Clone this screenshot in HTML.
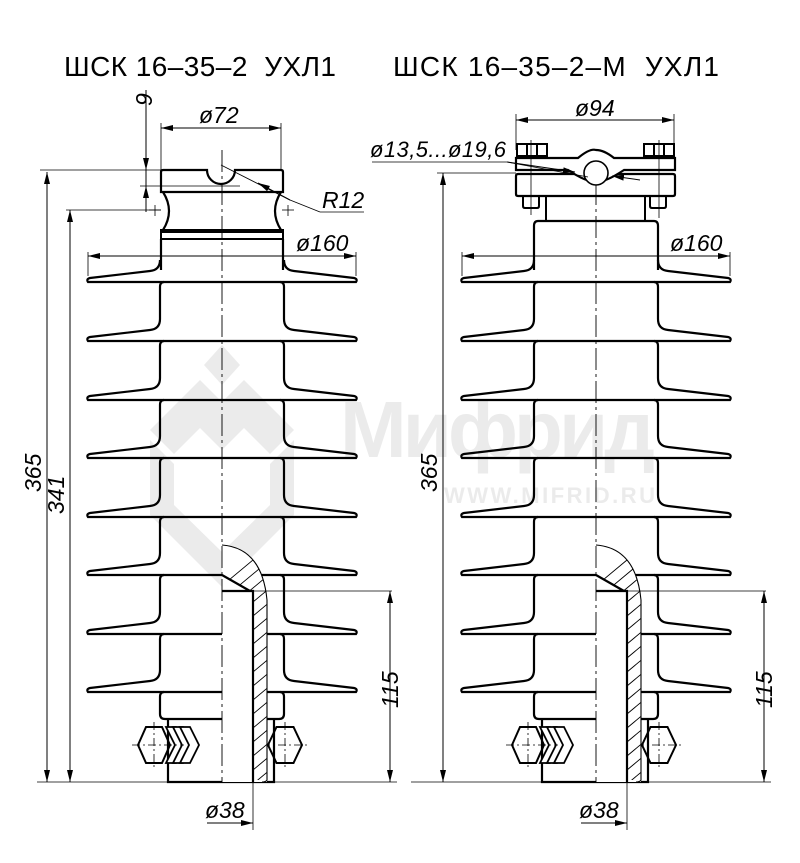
<!DOCTYPE html>
<html><head><meta charset="utf-8"><style>
html,body{margin:0;padding:0;background:#fff}
svg{display:block}
text{font-family:"Liberation Sans",sans-serif;font-style:italic;fill:#000}
</style></head><body>
<svg id="s" width="800" height="863" viewBox="0 0 800 863" xmlns="http://www.w3.org/2000/svg">
<defs>
<marker id="a" viewBox="0 0 12 6" refX="12" refY="3" markerWidth="12" markerHeight="6" markerUnits="userSpaceOnUse" orient="auto-start-reverse"><path d="M0,0L12,3L0,6z" fill="#000"/></marker>
</defs>
<g fill="#ebebeb">
<path d="M222,345 L240,365 L222,385 L204,365Z"/>
<path d="M150,430 L200,380 L222,402 L244,380 L294,430 L270,454 L244,428 L222,450 L200,428 L174,454Z"/>
<path d="M150,440 L174,464 L174,505 L222,552 L270,505 L270,464 L294,440 L294,515 L222,587 L150,515Z"/>
<text x="340" y="457" font-size="80" font-weight="bold" textLength="315" style="font-style:normal;fill:#ebebeb">Мифрид</text>
<text x="444" y="503" font-size="22" font-weight="bold" textLength="211" style="font-style:normal;fill:#ebebeb">WWW.MIFRID.RU</text>
</g>
<text x="64" y="76" font-size="28" textLength="272" style="font-style:normal" xml:space="preserve">ШСК 16–35–2  УХЛ1</text>
<text x="393" y="76" font-size="28" textLength="326" style="font-style:normal" xml:space="preserve">ШСК 16–35–2–М  УХЛ1</text>
<g id="g" fill="none" stroke="#000"></g>
</svg>
<script>
var g=document.getElementById('g'),out='';
function P(d,w,extra){out+='<path d="'+d+'" stroke-width="'+(w||2.2)+'" '+(extra||'')+'/>';}
function L(x1,y1,x2,y2,w,extra){out+='<line x1="'+x1+'" y1="'+y1+'" x2="'+x2+'" y2="'+y2+'" stroke-width="'+(w||1)+'" '+(extra||'')+'/>';}
function T(x,y,s,fs,rot){out+='<text x="'+x+'" y="'+y+'" font-size="'+(fs||22)+'" stroke="none"'+(rot?' transform="rotate(-90 '+x+' '+y+')"':'')+'>'+s+'</text>';}
function D(x1,y1,x2,y2){L(x1,y1,x2,y2,1,'marker-start="url(#a)" marker-end="url(#a)"');}
var sheds=[282,341,400,458,517,575,634,692];
function hex(cx,cy,w,h){var q=w/4;return 'M'+(cx-w/2)+','+cy+' L'+(cx-q)+','+(cy-h/2)+' L'+(cx+q)+','+(cy-h/2)+' L'+(cx+w/2)+','+cy+' L'+(cx+q)+','+(cy+h/2)+' L'+(cx-q)+','+(cy+h/2)+'Z';}
function ins(cx){
  var hw=62,tw=134;
  sheds.forEach(function(Y,i){
    P('M'+(cx-hw)+','+(Y-22)+' Q'+(cx-hw)+','+(Y-12)+' '+(cx-hw-10)+','+(Y-11)+' L'+(cx-tw+2)+','+(Y-4)+' Q'+(cx-tw-2)+','+(Y-3)+' '+(cx-tw)+','+Y+' L'+(cx+tw)+','+Y+' Q'+(cx+tw+2)+','+(Y-3)+' '+(cx+tw-2)+','+(Y-4)+' L'+(cx+hw+10)+','+(Y-11)+' Q'+(cx+hw)+','+(Y-12)+' '+(cx+hw)+','+(Y-22));
    if(i<sheds.length-1){
      var n=sheds[i+1];
      P('M'+(cx-hw+4)+','+Y+' Q'+(cx-hw)+','+Y+' '+(cx-hw)+','+(Y+5)+' L'+(cx-hw)+','+(n-22));
      P('M'+(cx+hw-4)+','+Y+' Q'+(cx+hw)+','+Y+' '+(cx+hw)+','+(Y+5)+' L'+(cx+hw)+','+(n-22));
    }
  });
  var Y=692;
  P('M'+(cx-hw+4)+','+Y+' Q'+(cx-hw)+','+Y+' '+(cx-hw)+','+(Y+5)+' L'+(cx-hw)+','+(714)+' Q'+(cx-hw)+',719 '+(cx-hw+5)+',719 L'+cx+',719');
  P('M'+(cx+hw-4)+','+Y+' Q'+(cx+hw)+','+Y+' '+(cx+hw)+','+(Y+5)+' L'+(cx+hw)+','+(714)+' Q'+(cx+hw)+',719 '+(cx+hw-5)+',719 L'+(cx+45)+',719');
  P('M'+(cx-54)+',719 L'+(cx-54)+',782 L'+(cx+52)+',782 L'+(cx+52)+',719');
  P(hex(cx-68,745,32,36),2);
  for(var k=0;k<3;k++){var x0=cx-56+k*7;P('M'+x0+',727 L'+(x0+10)+',727 L'+(x0+19)+',745 L'+(x0+10)+',763 L'+x0+',763 L'+(x0+9)+',745Z',1.8,'fill="#fff"');}
  P(hex(cx+63,745,34,36),2);
  L(cx-90,745,cx-38,745,0.8,'stroke-dasharray="8 3 2 3"');
  L(cx-68,722,cx-68,768,0.8,'stroke-dasharray="8 3 2 3"');
  L(cx+40,745,cx+88,745,0.8,'stroke-dasharray="8 3 2 3"');
  L(cx+63,722,cx+63,768,0.8,'stroke-dasharray="8 3 2 3"');
  var cut='M'+cx+',545 Q'+(cx+40)+',548 '+(cx+45)+',600 L'+(cx+45)+',782 L'+cx+',782 Z';
  P(cut,0,'fill="#fff" stroke="none"');
  out+='<clipPath id="c'+cx+'"><path d="M'+cx+',545 Q'+(cx+40)+',548 '+(cx+45)+',600 L'+(cx+45)+',780 L'+(cx+31)+',780 L'+(cx+31)+',591 L'+(cx+28)+',591 L'+cx+',575Z"/></clipPath>';
  var h='';for(var yy=540;yy<800;yy+=14){h+='M'+(cx-5)+','+(yy+50)+' L'+(cx+55)+','+yy+' ';}
  P(h,0.9,'clip-path="url(#c'+cx+')"');
  P('M'+cx+',545 Q'+(cx+40)+',548 '+(cx+45)+',600 L'+(cx+45)+',780 Q'+(cx+44)+',782 '+(cx+40)+',782',1.1);
  P('M'+cx+',575 L'+(cx+28)+',591 M'+cx+',591 L'+(cx+31)+',591 L'+(cx+31)+',782',2.2);
  P('M'+(cx+45)+',719 L'+(cx+52)+',719',2);
  L(cx,150,cx,782,0.9,'stroke-dasharray="22 4 3 4"');
  L(cx+31,591,cx+170,591,0.8);L(cx+52,782,cx+175,782,0.8);
  D(cx+168,591,cx+168,782);T(cx+176,708,'115',23,true);
  L(cx+31,782,cx+31,830,0.8);
  L(cx-15,823,cx+31,823,1,'marker-end="url(#a)"');T(cx-17,818,'ø38',23);
  D(cx-134,256,cx+134,256);L(cx-134,252,cx-134,276,0.8);L(cx+134,252,cx+134,276,0.8);
  T(cx+74,251,'ø160',23);
  L(cx-185,782,cx-54,782,0.8);
}
ins(222);ins(596);
var cx=222;
P('M161,239 L161,270 M283,239 L283,270',2.2);
P('M163,170 L207,170 A14,14 0 0 0 235,170 L281,170 Q283,170 283,172 L283,192 L161,192 L161,172 Q161,170 163,170Z',2.2);
P('M163,192 Q175,211 163,230 M281,192 Q269,211 281,230',2.2);
P('M161,230 L283,230 L283,239 L161,239 Z M161,232 L283,232',2);
D(161,128,281,128);L(161,123,161,170,0.8);L(281,123,281,170,0.8);T(199,123,'ø72',23);
L(40,170,161,170,0.8);L(140,186,240,186,0.8);L(66,210,161,210,0.8);
L(146,90,146,170,1,'marker-end="url(#a)"');L(146,212,146,186,1,'marker-end="url(#a)"');
L(146,170,146,186,1);T(152,106,'9',23,true);
L(155,205,155,216,0.8);L(149,210,161,210,0.8);L(288,205,288,216,0.8);L(282,210,294,210,0.8);
L(221,165,290,200,0.8);L(290,200,258,183,1,'marker-end="url(#a)"');L(290,200,320,212,0.8);L(320,212,364,212,0.8);T(322,208,'R12',23);
D(47,172,47,782);T(41,492,'365',23,true);
D(70,210,70,782);T(64,514,'341',23,true);
cx=596;
P('M538,221 L654,221 Q658,221 658,226 L658,270 M538,221 Q534,221 534,226 L534,270',2.2);
P('M546,196 L546,221 M645,196 L645,221',2);
P('M516,176 Q516,174 518,174 L673,174 Q675,174 675,176 L675,194 Q675,196 673,196 L518,196 Q516,196 516,194 Z',2.2);
P('M516,158 L578,158 Q590,148 596,150 Q604,150 614,158 L675,158 L675,170 L624,170 Q606,182 596,182 Q586,182 568,170 L516,170 Z',2.2,'fill="#fff"');
out+='<circle cx="596" cy="173" r="12" fill="#fff" stroke="#000" stroke-width="1.6"/>';
P('M517,144 L547,144 L547,156 L517,156 Z M527,144 L527,156 M537,144 L537,156',2);
P('M644,144 L674,144 L674,156 L644,156 Z M654,144 L654,156 M664,144 L664,156',2);
P('M523,196 L523,206 Q523,208 525,208 L537,208 Q539,208 539,206 L539,196',2);
P('M650,196 L650,206 Q650,208 652,208 L664,208 Q666,208 666,206 L666,196',2);
L(531,140,531,215,0.8);L(659,140,659,218,0.8);
D(516,120,674,120);L(516,114,516,150,0.8);L(674,114,674,150,0.8);T(575,116,'ø94',23);
L(372,162,507,162,0.8);L(507,162,588,177,0.8);L(507,162,575,172,1,'marker-end="url(#a)"');L(640,180,612,176,1,'marker-end="url(#a)"');
out+='<text x="370" y="157" font-size="22" textLength="136" stroke="none">ø13,5...ø19,6</text>';
L(437,173,516,173,0.8);
D(443,173,443,782);T(437,492,'365',23,true);
g.innerHTML=out;
</script>
</body></html>
